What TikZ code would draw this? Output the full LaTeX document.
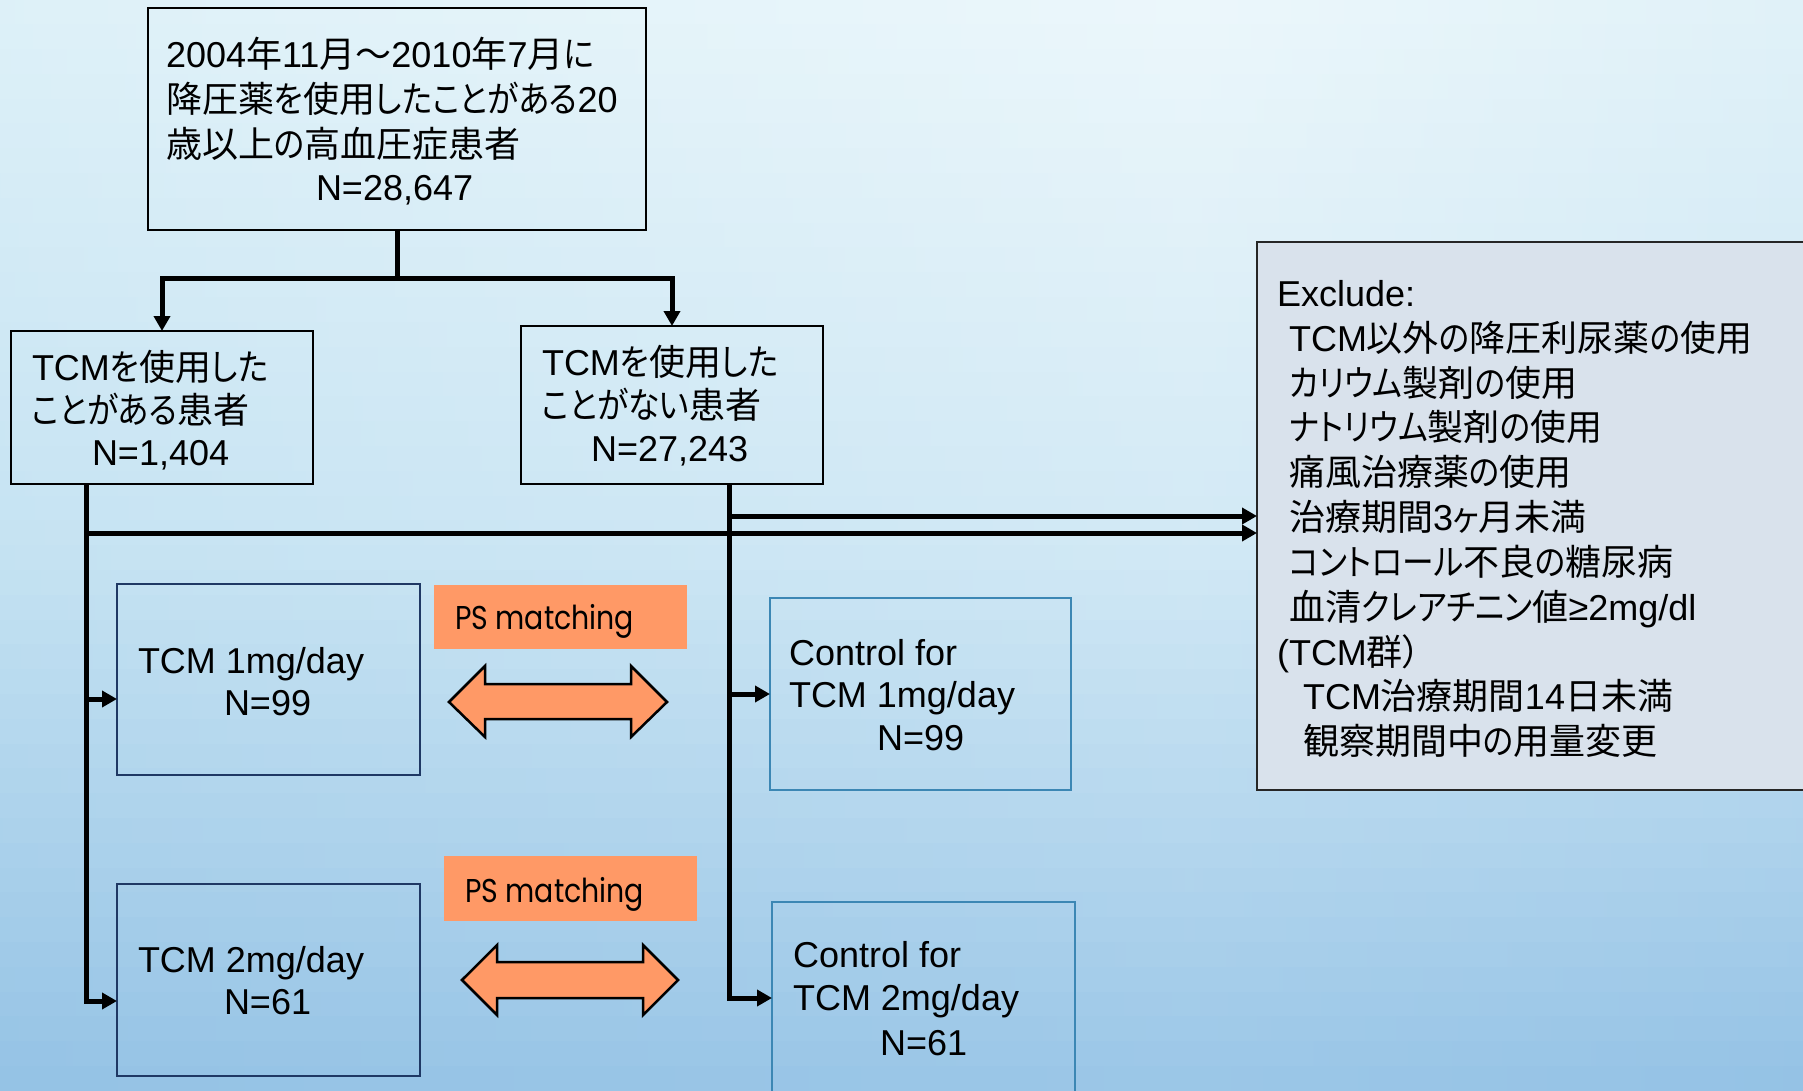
\documentclass[tikz,border=0pt]{standalone}
\usepackage{fontspec}
\setmainfont{Liberation Sans}
\newfontfamily\jp{Noto Sans CJK JP}[RawFeature=+palt]
\newfontfamily\jpk{Noto Sans CJK JP}[RawFeature=+palt, FakeStretch=0.88]
\newfontfamily\psfont{Poppins}[FakeStretch=0.86]
\newcommand\J[1]{{\jp #1}}
\newcommand\K[1]{{\jpk #1}}
\usetikzlibrary{arrows.meta,calc}
\definecolor{Ltop}{HTML}{D3ECF6}
\definecolor{Lmid}{HTML}{BCDEF0}
\definecolor{Lbot}{HTML}{8FBFE3}
\definecolor{Gtop}{HTML}{ECF7FB}
\definecolor{Gmid}{HTML}{D2E9F5}
\definecolor{Gbot}{HTML}{9AC6E7}
\definecolor{Rtop}{HTML}{CFE9F4}
\definecolor{Rmid}{HTML}{C0DFF1}
\definecolor{Rbot}{HTML}{8ABBE2}
\definecolor{navy}{HTML}{1F3864}
\definecolor{ctrlblue}{HTML}{3C87B4}
\definecolor{exfill}{HTML}{D9E2EC}
\definecolor{psorange}{HTML}{FF9966}
\begin{document}
\begin{tikzpicture}[x=1pt,y=-1pt,
  every node/.style={inner sep=0pt, outer sep=0pt},
  blackbox/.style={draw=black, line width=2.5pt, rectangle},
  tcmbox/.style={draw=navy, line width=2.5pt, rectangle},
  ctrlbox/.style={draw=ctrlblue, line width=2.5pt, rectangle},
  exbox/.style={draw=black!85, fill=exfill, line width=2.5pt, rectangle},
  psbox/.style={fill=psorange, rectangle},
  txt/.style={anchor=base west, font=\fontsize{36}{44}\selectfont},
  pstxt/.style={anchor=base west, font=\psfont\fontsize{33}{38}\selectfont},
  arr/.style={line width=5pt, -{Triangle[length=15pt,width=16pt]}},
  dblarrow/.style={draw=black, fill=psorange, line width=2.5pt, line join=miter},
]
\useasboundingbox (0,0) rectangle (1803,1091);
% background: horizontal strips, each with its own horizontal shading
\begin{scope}
\clip (0,0) rectangle (1803,1091);
\foreach \i in {0,...,43} {
  \pgfmathsetmacro\t{(\i+0.5)/44}
  \ifdim\t pt<0.5pt
    \pgfmathsetmacro\p{100*(1-2*\t)}
    \colorlet{cL}{Ltop!\p!Lmid}
    \colorlet{cG}{Gtop!\p!Gmid}
    \colorlet{cR}{Rtop!\p!Rmid}
  \else
    \pgfmathsetmacro\p{100*(2-2*\t)}
    \colorlet{cL}{Lmid!\p!Lbot}
    \colorlet{cG}{Gmid!\p!Gbot}
    \colorlet{cR}{Rmid!\p!Rbot}
  \fi
  \pgfdeclarehorizontalshading{bgs\i}{100bp}{color(0bp)=(cL); color(58bp)=(cG); color(100bp)=(cR)}
  \shade[shading=bgs\i] (0,{\i*24.8}) rectangle (1803,{(\i+1)*24.8+0.6});
}
\end{scope}

% boxes
\node[blackbox, minimum width=498pt, minimum height=222pt] (top) at (397,119) {};
\node[blackbox, minimum width=302pt, minimum height=153pt] (left) at (162,407.5) {};
\node[blackbox, minimum width=302pt, minimum height=158pt] (mid) at (672,405) {};
\node[exbox, minimum width=558pt, minimum height=548pt] (excl) at (1536,516) {};
\node[tcmbox, minimum width=303pt, minimum height=191pt] (tcm1) at (268.5,679.5) {};
\node[tcmbox, minimum width=303pt, minimum height=192pt] (tcm2) at (268.5,980) {};
\node[ctrlbox, minimum width=301pt, minimum height=192pt] (ctrl1) at (920.5,694) {};
\node[ctrlbox, minimum width=303pt, minimum height=192pt] (ctrl2) at (923.5,998) {};
\node[psbox, minimum width=253pt, minimum height=64pt] (ps1) at (560.5,617) {};
\node[psbox, minimum width=253pt, minimum height=65pt] (ps2) at (570.5,888.5) {};

% texts: top box
\node[txt] (t1) at (166,68) {2004\J{年}11\J{月～}2010\J{年}7\J{月}\K{に}};
\node[txt] (t2) at (166,113) {\J{降圧薬}\K{を}\J{使用}\K{したことがある}20};
\node[txt] (t3) at (166,158) {\J{歳以上}\K{の}\J{高血圧症患者}};
\node[txt] (t4) at (316,201) {N=28,647};
% left box
\node[txt] (l1) at (32,380) {TCM\K{を}\J{使用}\K{した}};
\node[txt] (l2) at (32,423) {\K{ことがある}\J{患者}};
\node[txt] (l3) at (92,465) {N=1,404};
% middle box
\node[txt] (m1) at (542,375) {TCM\K{を}\J{使用}\K{した}};
\node[txt] (m2) at (542,418) {\K{ことがない}\J{患者}};
\node[txt] (m3) at (591,461) {N=27,243};
% exclude box
\node[txt] (x0) at (1277,306) {Exclude:};
\node[txt] (x1) at (1289,351) {TCM\J{以外}\K{の}\J{降圧利尿薬}\K{の}\J{使用}};
\node[txt] (x2) at (1289,396) {\K{カリウム}\J{製剤}\K{の}\J{使用}};
\node[txt] (x3) at (1289,440) {\K{ナトリウム}\J{製剤}\K{の}\J{使用}};
\node[txt] (x4) at (1289,485) {\J{痛風治療薬}\K{の}\J{使用}};
\node[txt] (x5) at (1289,530) {\J{治療期間}3\K{ヶ}\J{月未満}};
\node[txt] (x6) at (1289,575) {\K{コントロール}\J{不良}\K{の}\J{糖尿病}};
\node[txt] (x7) at (1289,620) {\J{血清}\K{クレアチニン}\J{値}≥2mg/dl};
\node[txt] (x8) at (1277,665) {(TCM\J{群）}};
\node[txt] (x9) at (1303,709) {TCM\J{治療期間}14\J{日未満}};
\node[txt] (x10) at (1303,754) {\J{観察期間中}\K{の}\J{用量変更}};
% tcm boxes
\node[txt] (a1t) at (138,673) {TCM 1mg/day};
\node[txt] (a1n) at (224,715) {N=99};
\node[txt] (a2t) at (138,972) {TCM 2mg/day};
\node[txt] (a2n) at (224,1014) {N=61};
% control boxes
\node[txt] (c1a) at (789,665) {Control for};
\node[txt] (c1b) at (789,707) {TCM 1mg/day};
\node[txt] (c1n) at (877,750) {N=99};
\node[txt] (c2a) at (793,967) {Control for};
\node[txt] (c2b) at (793,1010) {TCM 2mg/day};
\node[txt] (c2n) at (880,1055) {N=61};
% PS matching
\node[pstxt] (pst1) at (455,629) {PS matching};
\node[pstxt] (pst2) at (465,902) {PS matching};

% double arrows
\draw[dblarrow] (449,702) -- (485,666) -- (485,684) -- (631,684) -- (631,666) -- (667,702)
  -- (631,737) -- (631,719) -- (485,719) -- (485,737) -- cycle;
\draw[dblarrow] (462,980) -- (497,945) -- (497,962) -- (643,962) -- (643,945) -- (678,980)
  -- (643,1015) -- (643,998) -- (497,998) -- (497,1015) -- cycle;

% connectors
\coordinate (j) at ($(top.south)+(0,48)$);
\draw[arr] (top.south) -- (j) -| (left.north);
\draw[arr] (j) -| (mid.north);
\coordinate (ls) at ($(left.south west)+(75,0)$);
\coordinate (ms) at ($(mid.south west)+(208,0)$);
\coordinate (p1) at ($(tcm1.west)+(0,19.5)$);
\coordinate (p2) at ($(tcm2.west)+(0,21)$);
\draw[arr] (ls) |- (p2);
\draw[arr] (ls |- p1) -- (p1);
\draw[arr] (ms) |- (ctrl2.west);
\draw[arr] (ms |- ctrl1.west) -- (ctrl1.west);
\coordinate (e1) at ($(ls)+(0,49)$);
\coordinate (e2) at ($(ms)+(0,32)$);
\draw[arr] (e1) -- (e1 -| excl.west);
\draw[arr] (e2) -- (e2 -| excl.west);
\end{tikzpicture}
\end{document}
